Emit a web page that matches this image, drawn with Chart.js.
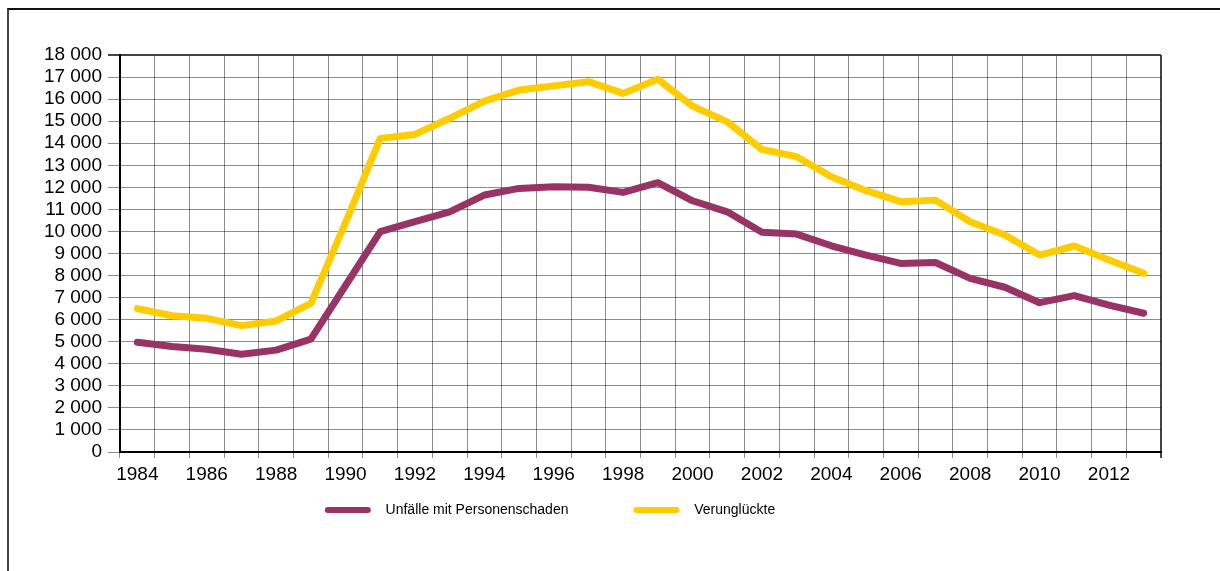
<!DOCTYPE html>
<html>
<head>
<meta charset="utf-8">
<script src="https://cdn.jsdelivr.net/npm/chart.js@4/dist/chart.umd.min.js"></script>
<style>
  body { margin: 0; background: #fff; }
  #wrap { position: relative; width: 1220px; height: 571px; }
  #frame { position: absolute; left: 7px; top: 8px; right: 0; bottom: 0; border-left: 2px solid #444; border-top: 2px solid #111; }
  #chart { position: absolute; left: 0; top: 0; }
</style>
</head>
<body>
<div id="wrap">
  <div id="frame"></div>
  <canvas id="chart" width="1220" height="571"></canvas>
</div>
<script>
const years = ["1984","1985","1986","1987","1988","1989","1990","1991","1992","1993","1994","1995","1996","1997","1998","1999","2000","2001","2002","2003","2004","2005","2006","2007","2008","2009","2010","2011","2012","2013"];
const accidents = [4980, 4780, 4660, 4430, 4620, 5120, 7550, 9990, 10440, 10890, 11650, 11950, 12030, 12000, 11770, 12210, 11390, 10890, 9960, 9880, 9350, 8930, 8550, 8590, 7870, 7470, 6770, 7090, 6660, 6290];
const casualties = [6500, 6180, 6060, 5730, 5940, 6740, 10400, 14220, 14400, 15130, 15910, 16410, 16600, 16790, 16260, 16900, 15680, 14970, 13720, 13390, 12480, 11850, 11350, 11420, 10440, 9840, 8930, 9340, 8700, 8100];
const seriesNames = ["Unfälle mit Personenschaden", "Verunglückte"];

const font = "'Liberation Sans', Arial, sans-serif";
const fmt = v => String(v).replace(/\B(?=(\d{3})+(?!\d))/g, " ");

// legend sits left of the plot centre in the original, move it after layout
const legendPlace = {
  id: "legendPlace",
  afterLayout(chart) {
    const lg = chart.legend;
    const w = lg.right - lg.left, h = lg.bottom - lg.top;
    lg.left = 550 - w / 2; lg.right = lg.left + w;
    lg.top = 438; lg.bottom = lg.top + h;
  }
};

new Chart(document.getElementById("chart"), {
  type: "line",
  data: {
    labels: years,
    datasets: [
      { label: seriesNames[0], data: accidents, borderColor: "#993366", backgroundColor: "#993366" },
      { label: seriesNames[1], data: casualties, borderColor: "#FFCC00", backgroundColor: "#FFCC00" }
    ]
  },
  options: {
    responsive: false,
    animation: false,
    layout: { padding: { left: 0, right: 59, top: 55, bottom: 0 } },
    elements: {
      line: { borderWidth: 7, tension: 0, borderCapStyle: "round", borderJoinStyle: "round" },
      point: { radius: 0, hoverRadius: 0 }
    },
    plugins: {
      tooltip: { enabled: false },
      legend: {
        position: "bottom",
        labels: {
          boxWidth: 46,
          boxHeight: 6,
          padding: 65,
          color: "#000",
          font: { family: font, size: 14 },
          useBorderRadius: true,
          borderRadius: 3,
          generateLabels: chart => chart.data.datasets.map((ds, i) => ({
            text: "  " + ds.label,
            fillStyle: ds.borderColor,
            strokeStyle: ds.borderColor,
            lineWidth: 0,
            borderRadius: 3,
            datasetIndex: i,
            hidden: false
          }))
        }
      }
    },
    scales: {
      x: {
        offset: true,
        grid: {
          offset: true,
          color: ctx => ctx.type === "scale" ? "#444" : "rgba(0,0,0,0.45)",
          lineWidth: ctx => ctx.type === "scale" ? 2 : 1,
          tickLength: 6
        },
        border: { color: "#000", width: 2 },
        ticks: {
          autoSkip: false,
          maxRotation: 0,
          padding: 5,
          color: "#000",
          font: { family: font, size: 19 },
          callback: (v, i) => i % 2 === 0 ? years[i] : ""
        },
        afterFit: s => { s.height = 30; }
      },
      y: {
        min: 0,
        max: 18000,
        grid: {
          color: ctx => ctx.tick && ctx.tick.value === 18000 ? "#444" : "rgba(0,0,0,0.45)",
          lineWidth: ctx => ctx.tick && ctx.tick.value === 18000 ? 2 : 1,
          tickLength: 12
        },
        border: { color: "#000", width: 2 },
        ticks: {
          stepSize: 1000,
          autoSkip: false,
          padding: 6,
          color: "#000",
          font: { family: font, size: 19 },
          callback: v => fmt(v)
        },
        afterFit: s => { s.width = 120; }
      }
    }
  },
  plugins: [legendPlace]
});
</script>
</body>
</html>
